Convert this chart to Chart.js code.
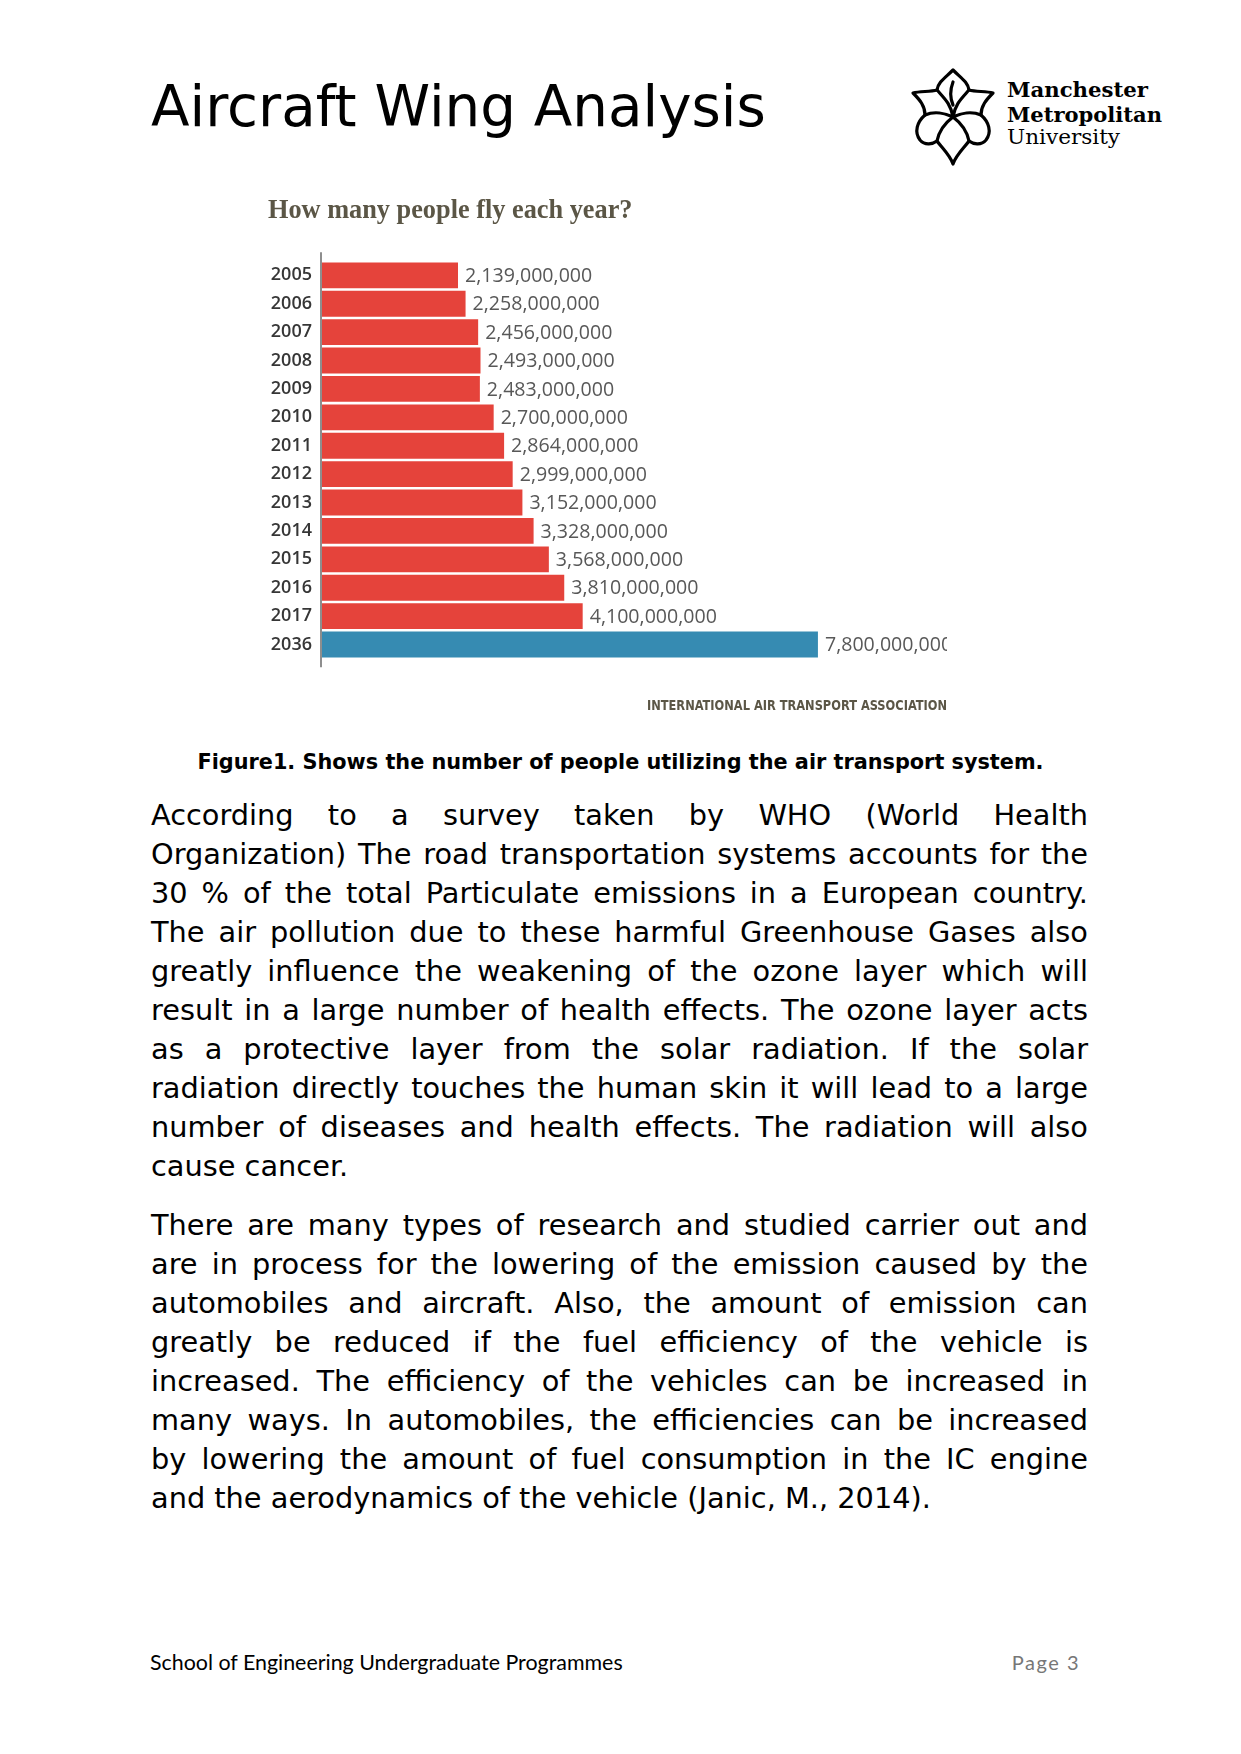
<!DOCTYPE html>
<html>
<head>
<meta charset="utf-8">
<script src="https://cdn.jsdelivr.net/npm/chart.js@4.4.1/dist/chart.umd.min.js"></script>
<style>
  html, body { margin: 0; padding: 0; background: #fff; }
  body { width: 1241px; height: 1754px; position: relative; overflow: hidden; }
  .abs { position: absolute; }
  #pageTitle { left: 151px; top: 79px; font: 56.3px/56px "DejaVu Sans", sans-serif; color: #000; white-space: nowrap; }
  #logo { left: 900px; top: 60px; }
  #chartBox { left: 258px; top: 170px; width: 700px; height: 560px; }
  #caption { left: 0; width: 1241px; top: 750px; text-align: center; font: bold 20.8px/24px "DejaVu Sans", sans-serif; color: #000; white-space: nowrap; }
  .para { left: 151px; width: 937px; font: 28.8px/39px "DejaVu Sans", sans-serif; color: #000; }
  .para div { white-space: nowrap; text-align: justify; text-align-last: justify; }
  .para div.last { text-align-last: left; }
  #p1 { top: 795.5px; }
  #p2 { top: 1205.5px; }
  #footL { left: 150px; top: 1650px; font: 21.4px/24px Lato, sans-serif; color: #000; }
  #footR { right: 161px; top: 1650px; font: 20px/24px Lato, sans-serif; color: #777; letter-spacing: 1.5px; }
</style>
</head>
<body>
<div id="pageTitle" class="abs">Aircraft Wing Analysis</div>

<svg id="logo" class="abs" width="280" height="110" viewBox="0 0 280 110">
  <g fill="#fff" stroke="#000" stroke-width="3.2" stroke-linejoin="round" stroke-linecap="round">
    <path d="M53,10 C45,18 38,22 37,30 C30,32 20,31 13,33 C20,40 25,46 25,55 C17,62 14,72 20,80 C25,86 33,84 37,81 C42,88 50,95 53,104 C56,95 64,88 69,81 C73,84 81,86 86,80 C92,72 89,62 81,55 C81,46 86,40 93,33 C86,31 76,32 69,30 C68,22 61,18 53,10 Z"/>
    <path fill="none" d="M37,30 C44,38 51,44 53,57 M69,30 C62,38 55,44 53,57 M25,55 C34,51 45,53 53,57 M81,55 C72,51 61,53 53,57 M53,57 C45,63 39,71 37,81 M53,57 C61,63 67,71 69,81 M53,22 C50,30 50,38 53,45"/>
  </g>
  <g font-family="'DejaVu Serif', serif" fill="#000">
    <text x="107" y="37" font-size="20" font-weight="bold" textLength="141" lengthAdjust="spacingAndGlyphs">Manchester</text>
    <text x="107" y="62" font-size="20" font-weight="bold" textLength="155" lengthAdjust="spacingAndGlyphs">Metropolitan</text>
    <text x="107" y="84" font-size="20" textLength="113" lengthAdjust="spacingAndGlyphs">University</text>
  </g>
</svg>

<div id="chartBox" class="abs"><canvas id="flyChart" width="700" height="560"></canvas></div>

<div id="caption" class="abs">Figure1. Shows the number of people utilizing the air transport system.</div>

<div id="p1" class="abs para">
  <div>According to a survey taken by WHO (World Health</div>
  <div>Organization) The road transportation systems accounts for the</div>
  <div>30 % of the total Particulate emissions in a European country.</div>
  <div>The air pollution due to these harmful Greenhouse Gases also</div>
  <div>greatly influence the weakening of the ozone layer which will</div>
  <div>result in a large number of health effects. The ozone layer acts</div>
  <div>as a protective layer from the solar radiation. If the solar</div>
  <div>radiation directly touches the human skin it will lead to a large</div>
  <div>number of diseases and health effects. The radiation will also</div>
  <div class="last">cause cancer.</div>
</div>

<div id="p2" class="abs para">
  <div>There are many types of research and studied carrier out and</div>
  <div>are in process for the lowering of the emission caused by the</div>
  <div>automobiles and aircraft. Also, the amount of emission can</div>
  <div>greatly be reduced if the fuel efficiency of the vehicle is</div>
  <div>increased. The efficiency of the vehicles can be increased in</div>
  <div>many ways. In automobiles, the efficiencies can be increased</div>
  <div>by lowering the amount of fuel consumption in the IC engine</div>
  <div class="last">and the aerodynamics of the vehicle (Janic, M., 2014).</div>
</div>

<div id="footL" class="abs">School of Engineering Undergraduate Programmes</div>
<div id="footR" class="abs">Page 3</div>

<script>
const years = ['2005', '2006', '2007', '2008', '2009', '2010', '2011',
               '2012', '2013', '2014', '2015', '2016', '2017', '2036'];
const passengers = [2139000000, 2258000000, 2456000000, 2493000000, 2483000000,
                    2700000000, 2864000000, 2999000000, 3152000000, 3328000000,
                    3568000000, 3810000000, 4100000000, 7800000000];
const forecastYear = '2036';
const chartTitle = 'How many people fly each year?';
const sourceText = 'INTERNATIONAL AIR TRANSPORT ASSOCIATION';

const RED = '#e5433b';
const BLUE = '#368bb2';

function fmt(v) {
    return v.toLocaleString('en-US');
}

// thin vertical axis line, a bit longer than the bar area
const axisLine = {
    id: 'axisLine',
    beforeDatasetsDraw(chart) {
        const a = chart.chartArea;
        const ctx = chart.ctx;
        ctx.save();
        ctx.strokeStyle = '#8e8e8e';
        ctx.lineWidth = 2;
        ctx.beginPath();
        ctx.moveTo(a.left - 1, a.top - 9);
        ctx.lineTo(a.left - 1, a.bottom + 8.5);
        ctx.stroke();
        ctx.restore();
    }
};

// value labels at the end of each bar (cut off at the right edge like the original)
const valueLabels = {
    id: 'valueLabels',
    afterDatasetsDraw(chart) {
        const a = chart.chartArea;
        const ctx = chart.ctx;
        const meta = chart.getDatasetMeta(0);
        ctx.save();
        ctx.beginPath();
        ctx.rect(a.left, a.top - 20, a.right - a.left, a.bottom - a.top + 40);
        ctx.clip();
        ctx.font = '19.6px "Open Sans"';
        ctx.fillStyle = '#585858';
        ctx.textBaseline = 'middle';
        meta.data.forEach(function(bar, i) {
            ctx.fillText(fmt(passengers[i]), bar.x + 7, bar.y + 1);
        });
        ctx.restore();
    }
};

// source line under the chart, squeezed to the width of the original
const sourceLine = {
    id: 'sourceLine',
    afterDraw(chart) {
        const a = chart.chartArea;
        const ctx = chart.ctx;
        ctx.save();
        ctx.font = 'bold 14px "DejaVu Sans Condensed", "DejaVu Sans"';
        ctx.fillStyle = '#5b5646';
        ctx.textAlign = 'right';
        ctx.textBaseline = 'middle';
        ctx.fillText(sourceText, a.right, a.bottom + 47.5, 300);
        ctx.restore();
    }
};

const ctx = document.getElementById('flyChart').getContext('2d');
new Chart(ctx, {
    type: 'bar',
    data: {
        labels: years,
        datasets: [{
            data: passengers,
            backgroundColor: years.map(y => y === forecastYear ? BLUE : RED),
            borderWidth: 0,
            categoryPercentage: 1,
            barPercentage: 0.91
        }]
    },
    options: {
        indexAxis: 'y',
        responsive: false,
        animation: false,
        devicePixelRatio: 1,
        layout: {
            padding: { left: 10, right: 11, top: 0, bottom: 71.3 }
        },
        scales: {
            x: {
                display: false,
                min: 0,
                max: 9830000000
            },
            y: {
                grid: { display: false, drawTicks: false },
                border: { display: false },
                ticks: {
                    color: '#363636',
                    padding: 10,
                    font: { family: '"Open Sans"', size: 18, weight: '600' }
                },
                afterFit(scale) {
                    scale.width = 54;
                }
            }
        },
        plugins: {
            legend: { display: false },
            tooltip: { enabled: false },
            title: {
                display: true,
                text: chartTitle,
                align: 'start',
                color: '#5b5646',
                font: { family: '"Liberation Serif"', size: 26.3, weight: 'bold', lineHeight: 1.2 },
                padding: { top: 25.4, bottom: 34.2 }
            }
        }
    },
    plugins: [axisLine, valueLabels, sourceLine]
});
</script>
</body>
</html>
